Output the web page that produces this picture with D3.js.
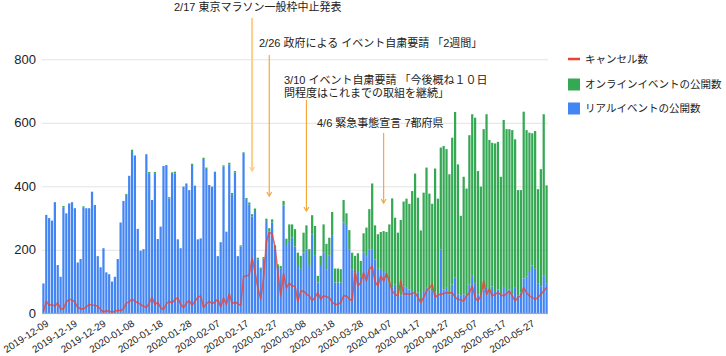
<!DOCTYPE html>
<html>
<head>
<meta charset="utf-8">
<script src="https://cdn.jsdelivr.net/npm/d3@7"></script>
<style>
    body { margin: 0; background: #fff; }
    svg { font-family: "Liberation Sans", Arial, "Noto Sans CJK JP", sans-serif; }
</style>
</head>
<body>
<div id="eventChartDiv"></div>
<script>
// daily values, first day 2019-12-09
const startDate = '2019-12-09';

const realEvents = [
    94, 310, 300, 292, 350, 152, 115, 334, 315, 346,
    350, 331, 160, 171, 334, 331, 331, 383, 341, 180,
    145, 205, 129, 123, 100, 115, 171, 286, 354, 373,
    433, 511, 497, 266, 197, 202, 501, 441, 357, 441,
    234, 273, 464, 467, 362, 439, 441, 233, 205, 399,
    409, 388, 467, 402, 233, 236, 486, 455, 404, 399,
    446, 180, 224, 462, 257, 469, 373, 443, 180, 210,
    502, 357, 343, 305, 322, 170, 140, 172, 288, 258,
    286, 205, 146, 140, 340, 215, 228, 238, 210, 149,
    140, 191, 202, 149, 249, 181, 97, 149, 191, 139,
    181, 244, 97, 97, 97, 286, 275, 202, 139, 128,
    130, 115, 191, 180, 200, 202, 170, 140, 140, 130,
    110, 95, 80, 90, 60, 55, 85, 80, 75, 70,
    60, 65, 45, 70, 80, 75, 70, 65, 60, 200,
    75, 80, 60, 90, 112, 60, 55, 60, 55, 90,
    118, 95, 60, 55, 75, 80, 70, 85, 70, 75,
    60, 80, 70, 75, 60, 80, 55, 65, 110, 115,
    130, 150, 140, 95, 85, 120, 95
];

const onlineEvents = [
    0, 0, 0, 0, 0, 0, 0, 4, 0, 0,
    0, 0, 0, 0, 3, 0, 0, 0, 0, 0,
    0, 0, 0, 0, 0, 0, 0, 0, 0, 3,
    0, 4, 0, 0, 0, 0, 0, 4, 0, 4,
    0, 0, 0, 0, 4, 5, 5, 0, 0, 0,
    0, 0, 4, 0, 0, 0, 4, 4, 0, 0,
    0, 0, 0, 4, 0, 5, 6, 5, 0, 4,
    5, 6, 6, 7, 8, 5, 4, 5, 10, 10,
    10, 9, 8, 9, 14, 20, 52, 42, 55, 42,
    41, 63, 75, 53, 60, 94, 21, 32, 89, 80,
    57, 75, 44, 44, 42, 71, 40, 60, 52, 53,
    59, 50, 61, 90, 128, 207, 107, 109, 116, 129,
    146, 185, 282, 211, 194, 239, 267, 281, 270, 315,
    380, 299, 216, 310, 379, 302, 275, 391, 301, 322,
    452, 437, 378, 463, 522, 409, 252, 370, 338, 471,
    509, 521, 388, 344, 505, 547, 476, 452, 465, 465,
    370, 529, 510, 505, 517, 468, 333, 323, 525, 462,
    439, 417, 434, 296, 369, 507, 308
];

const cancellations = [
    5, 38, 25, 28, 22, 33, 14, 14, 35, 44,
    42, 35, 18, 14, 14, 20, 28, 26, 25, 22,
    12, 4, 8, 6, 4, 6, 10, 8, 14, 32,
    36, 45, 38, 33, 28, 22, 18, 32, 50, 28,
    34, 18, 12, 30, 38, 32, 44, 48, 28, 18,
    32, 40, 25, 38, 50, 55, 18, 30, 38, 30,
    36, 44, 20, 48, 28, 62, 30, 36, 30, 25,
    115, 118, 120, 175, 130, 80, 45, 110, 225, 255,
    250, 210, 130, 55, 125, 80, 95, 85, 86, 36,
    70, 70, 60, 55, 40, 50, 65, 44, 55, 52,
    49, 35, 28, 28, 34, 55, 55, 45, 39, 133,
    86, 97, 128, 102, 139, 149, 100, 86, 118, 102,
    125, 100, 70, 60, 55, 102, 60, 62, 60, 62,
    65, 50, 34, 50, 70, 80, 91, 50, 58, 60,
    62, 65, 64, 65, 50, 44, 42, 39, 55, 65,
    86, 50, 39, 55, 102, 60, 76, 55, 60, 65,
    58, 55, 62, 70, 55, 39, 50, 55, 81, 65,
    55, 50, 44, 50, 60, 70, 81
];

const tickLabels = [
    '2019-12-09', '2019-12-19', '2019-12-29', '2020-01-08', '2020-01-18', '2020-01-28',
    '2020-02-07', '2020-02-17', '2020-02-27', '2020-03-08', '2020-03-18', '2020-03-28',
    '2020-04-07', '2020-04-17', '2020-04-27', '2020-05-07', '2020-05-17', '2020-05-27'
];
const yTicks = [0, 200, 400, 600, 800];

const seriesNames = ['キャンセル数', 'オンラインイベントの公開数', 'リアルイベントの公開数'];

const annotations = [
    { date: '2020-02-20', lines: ['2/17 東京マラソン一般枠中止発表'] },
    { date: '2020-02-26', lines: ['2/26 政府による イベント自粛要請 「2週間」'] },
    { date: '2020-03-10', lines: ['3/10 イベント自粛要請 「今後概ね１０日', '問程度はこれまでの取組を継続」'] },
    { date: '2020-04-06', lines: ['4/6 緊急事態宣言 7都府県'] }
];

class EventChart {
    constructor() {
        this.width = 726;
        this.height = 356;
        this.area = { left: 42, right: 548, top: 59.3, bottom: 313.3 };
        this.colors = { real: '#4285f4', online: '#34a853', cancel: '#ea4335' };
        // where each annotation's text and arrow sit
        this.noteLayout = [
            { textX: 174, textY: 11, top: 18, bottom: 171, color: '#fbcf8c', w: 2 },
            { textX: 259, textY: 47, top: 55, bottom: 196, color: '#f5a93a', w: 1.2 },
            { textX: 284, textY: 84, top: 100, bottom: 211, color: '#f5a93a', w: 1.2 },
            { textX: 317, textY: 127, top: 133, bottom: 203, color: '#f5a93a', w: 1.2 }
        ];
        this.drawPlot();
    }

    drawPlot() {
        const fmt = d3.utcFormat('%Y-%m-%d');
        const start = d3.utcParse('%Y-%m-%d')(startDate);
        const days = d3.utcDay.range(start, d3.utcDay.offset(start, realEvents.length)).map(fmt);

        const rows = days.map((d, i) => ({
            date: d, real: realEvents[i], online: onlineEvents[i], cancel: cancellations[i]
        }));

        const x = d3.scaleBand().domain(days).range([this.area.left, this.area.right]).paddingInner(0.22).paddingOuter(0.11);
        const y = d3.scaleLinear().domain([0, 800]).range([this.area.bottom, this.area.top]);
        const cx = d => x(d) + x.bandwidth() / 2;

        this.svg = d3.select('#eventChartDiv')
            .append('svg')
            .attr('width', this.width)
            .attr('height', this.height);

        // gridlines + y labels
        const yAxis = d3.axisLeft(y).tickValues(yTicks).tickSize(-(this.area.right - this.area.left)).tickPadding(6);
        const gy = this.svg.append('g')
            .attr('transform', 'translate(' + this.area.left + ',0)')
            .call(yAxis);
        gy.select('.domain').remove();
        gy.selectAll('.tick line').attr('stroke', '#e3e3e3');
        gy.selectAll('.tick text').attr('font-size', 13).attr('fill', '#222').attr('x', -6);

        // stacked bars
        const stack = d3.stack().keys(['real', 'online'])(rows);
        const fills = [this.colors.real, this.colors.online];
        this.svg.append('g').selectAll('g')
            .data(stack)
            .join('g')
            .attr('fill', (s, i) => fills[i])
            .selectAll('rect')
            .data(s => s)
            .join('rect')
            .attr('x', d => x(d.data.date))
            .attr('width', x.bandwidth())
            .attr('y', d => y(d[1]))
            .attr('height', d => y(d[0]) - y(d[1]));

        // baseline
        this.svg.append('line')
            .attr('x1', this.area.left).attr('x2', this.area.right)
            .attr('y1', y(0)).attr('y2', y(0))
            .attr('stroke', '#9e9e9e');

        // cancellations line
        const line = d3.line().x(d => cx(d.date)).y(d => y(d.cancel));
        this.svg.append('path')
            .datum(rows)
            .attr('fill', 'none')
            .attr('stroke', this.colors.cancel)
            .attr('stroke-opacity', 0.8)
            .attr('stroke-width', 1.6)
            .attr('stroke-linejoin', 'round')
            .attr('d', line);

        // x axis labels, slanted
        const xAxis = d3.axisBottom(x).tickValues(tickLabels).tickSize(0).tickPadding(0);
        const gx = this.svg.append('g')
            .attr('transform', 'translate(0,' + y(0) + ')')
            .call(xAxis);
        gx.select('.domain').remove();
        gx.selectAll('.tick text')
            .attr('font-size', 10)
            .attr('fill', '#222')
            .attr('text-anchor', 'end')
            .attr('dy', 0)
            .attr('y', 0)
            .attr('transform', 'translate(6,12) rotate(-33)');

        // annotations
        const notes = this.svg.append('g');
        annotations.forEach((a, i) => {
            const lay = this.noteLayout[i];
            const ax = cx(a.date);
            const t = notes.append('text')
                .attr('x', lay.textX).attr('y', lay.textY)
                .attr('font-size', 11).attr('fill', '#222');
            a.lines.forEach((l, j) => {
                t.append('tspan').attr('x', lay.textX).attr('dy', j === 0 ? 0 : 13).text(l);
            });
            notes.append('line')
                .attr('x1', ax).attr('x2', ax)
                .attr('y1', lay.top).attr('y2', lay.bottom)
                .attr('stroke', lay.color).attr('stroke-width', lay.w);
            notes.append('path')
                .attr('d', 'M' + (ax - 2.5) + ',' + (lay.bottom - 4) + 'L' + ax + ',' + lay.bottom + 'L' + (ax + 2.5) + ',' + (lay.bottom - 4))
                .attr('fill', 'none').attr('stroke', lay.color).attr('stroke-width', 1.2);
        });

        // legend
        const legend = this.svg.append('g').attr('transform', 'translate(568,0)');
        const legendY = [59, 84.5, 108.5];
        legend.append('line')
            .attr('x1', 0).attr('x2', 12).attr('y1', legendY[0]).attr('y2', legendY[0])
            .attr('stroke', this.colors.cancel).attr('stroke-width', 2.5);
        legend.append('rect').attr('x', 0).attr('y', legendY[1] - 6).attr('width', 12).attr('height', 12).attr('fill', this.colors.online);
        legend.append('rect').attr('x', 0).attr('y', legendY[2] - 6).attr('width', 12).attr('height', 12).attr('fill', this.colors.real);
        legend.selectAll('text.lab')
            .data(seriesNames)
            .join('text')
            .attr('x', 17)
            .attr('y', (d, i) => legendY[i])
            .attr('dy', '0.36em')
            .attr('font-size', 10.5)
            .attr('fill', '#222')
            .text(d => d);
    }
}

new EventChart();
</script>
</body>
</html>
